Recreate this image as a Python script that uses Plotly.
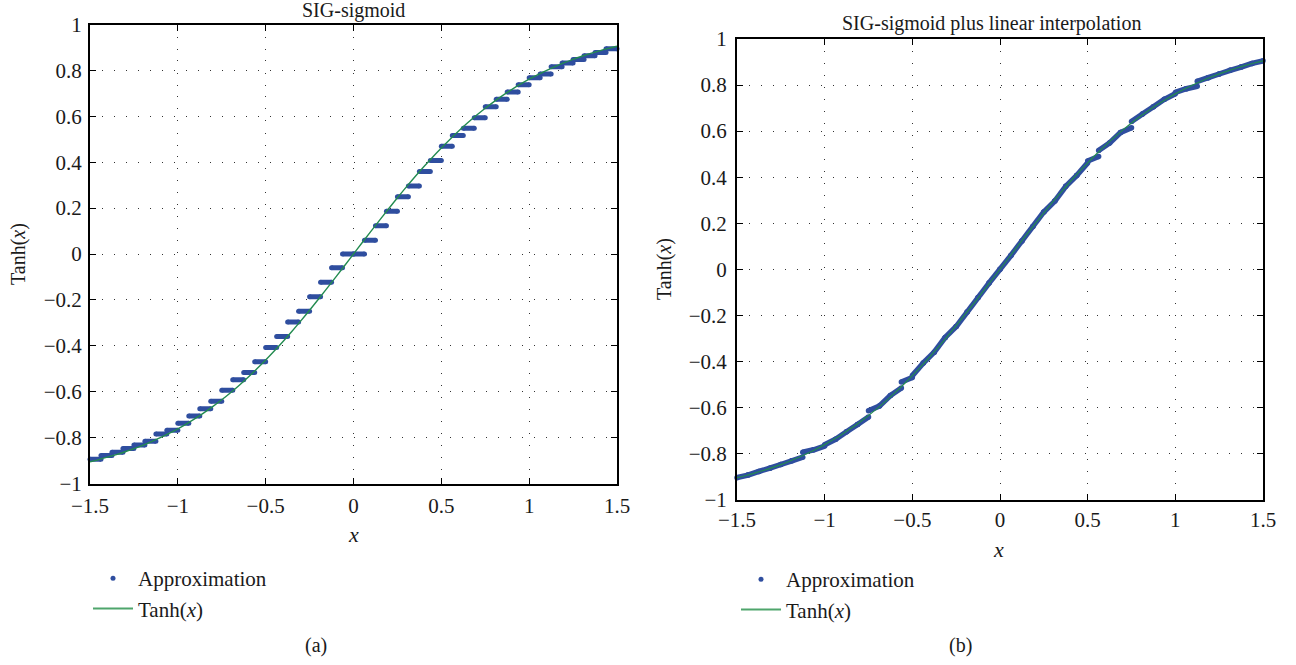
import plotly.graph_objects as go

# ---------------- data ----------------
# staircase (SIG-sigmoid) levels for steps k = 0..23 on the positive side, each step 1/16 wide
step_levels = [0.0, 0.06, 0.123, 0.186, 0.249, 0.296, 0.36, 0.407, 0.47, 0.516, 0.548, 0.594,
               0.642, 0.674, 0.706, 0.738, 0.768, 0.784, 0.816, 0.832, 0.848, 0.864, 0.878, 0.894]
step_edges = [k / 16 for k in range(25)]

# SIG-sigmoid plus linear interpolation: start / end value of each 1/16 segment (positive side)
interp_start = [0.0, 0.06, 0.123, 0.186, 0.249, 0.296, 0.36, 0.407, 0.47, 0.516, 0.548, 0.594,
                0.642, 0.674, 0.706, 0.738, 0.768, 0.784, 0.816, 0.832, 0.848, 0.864, 0.878, 0.894]
interp_end = [0.06, 0.123, 0.186, 0.249, 0.296, 0.36, 0.407, 0.462, 0.49, 0.548, 0.594, 0.615,
              0.674, 0.706, 0.738, 0.762, 0.784, 0.795, 0.832, 0.848, 0.864, 0.878, 0.894, 0.905]

# Tanh(x) reference curve, x = 0, 0.05, ..., 1.5 (odd function, mirrored)
tanh_x_pos = [round(0.05 * i, 2) for i in range(31)]
tanh_y_pos = [0.0, 0.04996, 0.09967, 0.14889, 0.19738, 0.24492, 0.29131, 0.33638, 0.37995,
              0.42190, 0.46212, 0.50052, 0.53705, 0.57167, 0.60437, 0.63515, 0.66404, 0.69107,
              0.71630, 0.73978, 0.76159, 0.78181, 0.80050, 0.81775, 0.83365, 0.84828, 0.86172,
              0.87405, 0.88535, 0.89569, 0.90515]

x_tickvals = [-1.5, -1, -0.5, 0, 0.5, 1, 1.5]
x_ticktext = ["\u22121.5", "\u22121", "\u22120.5", "0", "0.5", "1", "1.5"]
y_tickvals = [-1, -0.8, -0.6, -0.4, -0.2, 0, 0.2, 0.4, 0.6, 0.8, 1]
y_ticktext = ["\u22121", "\u22120.8", "\u22120.6", "\u22120.4", "\u22120.2", "0",
              "0.2", "0.4", "0.6", "0.8", "1"]

# ---------------- build series ----------------
tanh_x = [-v for v in tanh_x_pos[::-1]] + tanh_x_pos[1:]
tanh_y = [-v for v in tanh_y_pos[::-1]] + tanh_y_pos[1:]

sx, sy = [], []
for k, lev in enumerate(step_levels):
    x0, x1 = step_edges[k], step_edges[k + 1]
    sx += [x0, x1, None, -x1, -x0, None]
    sy += [lev, lev, None, -lev, -lev, None]

ix, iy = [], []
for k in range(len(interp_start)):
    x0, x1 = step_edges[k], step_edges[k + 1]
    a, b = interp_start[k], interp_end[k]
    ix += [x0, x1, None, -x1, -x0, None]
    iy += [a, b, None, -b, -a, None]

BLUE = "#2F4E9F"
GREEN = "#238B50"
LEG_GREEN = "#4FA56C"
FONT = "Liberation Serif"
TXT = "#1a1a1a"

fig = go.Figure()

# left panel
fig.add_trace(go.Scatter(x=sx, y=sy, mode="lines+markers", xaxis="x", yaxis="y",
                         line=dict(color=BLUE, width=5), marker=dict(color=BLUE, size=5),
                         showlegend=False, cliponaxis=False, hoverinfo="skip"))
fig.add_trace(go.Scatter(x=tanh_x, y=tanh_y, mode="lines", xaxis="x", yaxis="y",
                         line=dict(color=GREEN, width=1.4, shape="spline"),
                         showlegend=False, hoverinfo="skip"))
fig.add_trace(go.Scatter(x=[None], y=[None], mode="markers", name="Approximation",
                         marker=dict(color=BLUE, size=5), xaxis="x", yaxis="y", legend="legend"))
fig.add_trace(go.Scatter(x=[None], y=[None], mode="lines", name="Tanh(<i>x</i>)",
                         line=dict(color=LEG_GREEN, width=2), xaxis="x", yaxis="y", legend="legend"))

# right panel
fig.add_trace(go.Scatter(x=ix, y=iy, mode="lines+markers", xaxis="x2", yaxis="y2",
                         line=dict(color=BLUE, width=5.5), marker=dict(color=BLUE, size=5.5),
                         showlegend=False, cliponaxis=False, hoverinfo="skip"))
fig.add_trace(go.Scatter(x=tanh_x, y=tanh_y, mode="lines", xaxis="x2", yaxis="y2",
                         line=dict(color=GREEN, width=1.2, shape="spline"),
                         showlegend=False, hoverinfo="skip"))
fig.add_trace(go.Scatter(x=[None], y=[None], mode="markers", name="Approximation",
                         marker=dict(color=BLUE, size=5), xaxis="x2", yaxis="y2", legend="legend2"))
fig.add_trace(go.Scatter(x=[None], y=[None], mode="lines", name="Tanh(<i>x</i>)",
                         line=dict(color=LEG_GREEN, width=2), xaxis="x2", yaxis="y2", legend="legend2"))

W, H = 1296, 665

def px_x(p):
    return p / W

def px_y(p):
    return (H - p) / H

axis_common = dict(showline=True, linecolor="black", linewidth=2, mirror="allticks",
                   ticks="inside", ticklen=6, tickcolor="black", tickwidth=1,
                   showgrid=True, gridcolor="#333333", gridwidth=1, griddash="1px,11px",
                   zeroline=False, automargin=False,
                   tickfont=dict(family=FONT, size=21, color=TXT))

fig.update_layout(
    width=W, height=H, margin=dict(l=0, r=0, t=0, b=0),
    paper_bgcolor="white", plot_bgcolor="white",
    font=dict(family=FONT, size=21, color=TXT),
    xaxis=dict(domain=[px_x(90), px_x(617)], range=[-1.5, 1.5], anchor="y",
               tickvals=x_tickvals, ticktext=x_ticktext, ticklabelstandoff=2, **axis_common),
    yaxis=dict(domain=[px_y(483.5), px_y(24.5)], range=[-1, 1], anchor="x",
               tickvals=y_tickvals, ticktext=y_ticktext, ticklabelstandoff=2, **axis_common),
    xaxis2=dict(domain=[px_x(737), px_x(1263)], range=[-1.5, 1.5], anchor="y2",
                tickvals=x_tickvals, ticktext=x_ticktext, ticklabelstandoff=0, **axis_common),
    yaxis2=dict(domain=[px_y(499.5), px_y(39)], range=[-1, 1], anchor="x2",
                tickvals=y_tickvals, ticktext=y_ticktext, ticklabelstandoff=4, **axis_common),
    legend=dict(x=px_x(88), y=px_y(558), xanchor="left", yanchor="top",
                bgcolor="rgba(0,0,0,0)", font=dict(family=FONT, size=21, color=TXT),
                itemwidth=40, tracegroupgap=0),
    legend2=dict(x=px_x(736), y=px_y(559), xanchor="left", yanchor="top",
                 bgcolor="rgba(0,0,0,0)", font=dict(family=FONT, size=21, color=TXT),
                 itemwidth=40, tracegroupgap=0),
)

annots = [
    dict(text="SIG-sigmoid", x=px_x(353), y=px_y(10), size=20),
    dict(text="SIG-sigmoid plus linear interpolation", x=px_x(991), y=px_y(24), size=20),
    dict(text="<i>x</i>", x=px_x(353), y=px_y(534), size=22),
    dict(text="<i>x</i>", x=px_x(998), y=px_y(549), size=22),
    dict(text="(a)", x=px_x(316), y=px_y(645), size=20),
    dict(text="(b)", x=px_x(960), y=px_y(645), size=20),
]
for a in annots:
    fig.add_annotation(text=a["text"], x=a["x"], y=a["y"], xref="paper", yref="paper",
                       xanchor="center", yanchor="middle", showarrow=False,
                       font=dict(family=FONT, size=a["size"], color=TXT))

for xx, yy in [(18, 254), (664, 269)]:
    fig.add_annotation(text="Tanh(<i>x</i>)", x=px_x(xx), y=px_y(yy), xref="paper", yref="paper",
                       xanchor="center", yanchor="middle", showarrow=False, textangle=-90,
                       font=dict(family=FONT, size=20, color=TXT))

fig.write_html("out.html")
